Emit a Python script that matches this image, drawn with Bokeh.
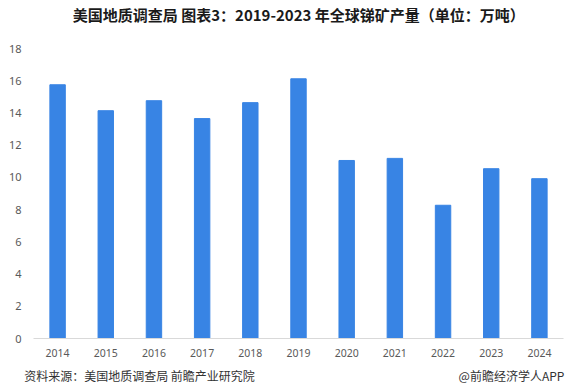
from bokeh.plotting import figure
from bokeh.models import Range1d, FixedTicker, LinearAxis
from bokeh.embed import file_html
from bokeh.resources import INLINE

years = ["2014", "2015", "2016", "2017", "2018", "2019", "2020", "2021", "2022", "2023", "2024"]
production = [15.75, 14.14, 14.76, 13.65, 14.64, 16.12, 11.05, 11.18, 8.27, 10.54, 9.92]
y_ticks = [0, 2, 4, 6, 8, 10, 12, 14, 16, 18]

title_text = "美国地质调查局  图表3：2019-2023 年全球锑矿产量（单位：万吨）"
source_text = "资料来源：美国地质调查局 前瞻产业研究院"
brand_text = "@前瞻经济学人APP"

xs = list(range(len(years)))

p = figure(width=579, height=392, output_backend="svg", toolbar_location=None,
           x_range=Range1d(-0.5, len(years) - 0.5), y_range=Range1d(0, 18),
           min_border_left=33, min_border_right=16, min_border_top=47, min_border_bottom=54,
           background_fill_color="white", border_fill_color="white")
p.outline_line_color = None
p.grid.visible = False

p.vbar(x=xs, top=production, width=0.32, color="#3884e4")

xa = p.xaxis[0]
xa.ticker = FixedTicker(ticks=xs)
xa.major_label_overrides = {i: y for i, y in enumerate(years)}
xa.axis_line_color = "#d9d9d9"
xa.major_tick_line_color = None
xa.minor_tick_line_color = None
xa.major_tick_out = 0
xa.major_label_standoff = 10
xa.major_label_text_font = "Noto Sans"
xa.major_label_text_font_size = "10.5px"
xa.major_label_text_color = "#595959"

ya = p.yaxis[0]
ya.ticker = FixedTicker(ticks=y_ticks)
ya.axis_line_color = None
ya.major_tick_line_color = None
ya.minor_tick_line_color = None
ya.major_label_standoff = 6
ya.major_label_text_font = "Noto Sans"
ya.major_label_text_font_size = "11px"
ya.major_label_text_color = "#595959"

# text rows placed through an extra pixel range spanning the frame
p.extra_x_ranges = {"px": Range1d(0, 530)}

foot = LinearAxis(x_range_name="px", ticker=FixedTicker(ticks=[106, 478]),
                  major_label_overrides={106: source_text, 478: brand_text})
foot.axis_line_color = None
foot.major_tick_line_color = None
foot.minor_tick_line_color = None
foot.major_tick_out = 0
foot.major_label_standoff = 7
foot.major_label_text_font = "Noto Sans CJK SC"
foot.major_label_text_font_size = "12px"
foot.major_label_text_color = "#333333"
p.add_layout(foot, "below")

head = LinearAxis(x_range_name="px", ticker=FixedTicker(ticks=[267]),
                  major_label_overrides={267: title_text})
head.axis_line_color = None
head.major_tick_line_color = None
head.minor_tick_line_color = None
head.major_tick_out = 0
head.major_label_standoff = 24
head.major_label_text_font = "Noto Sans CJK SC"
head.major_label_text_font_style = "bold"
head.major_label_text_font_size = "15px"
head.major_label_text_color = "#1a1a1a"
p.add_layout(head, "above")

open("out.html", "w").write(file_html(p, INLINE))
